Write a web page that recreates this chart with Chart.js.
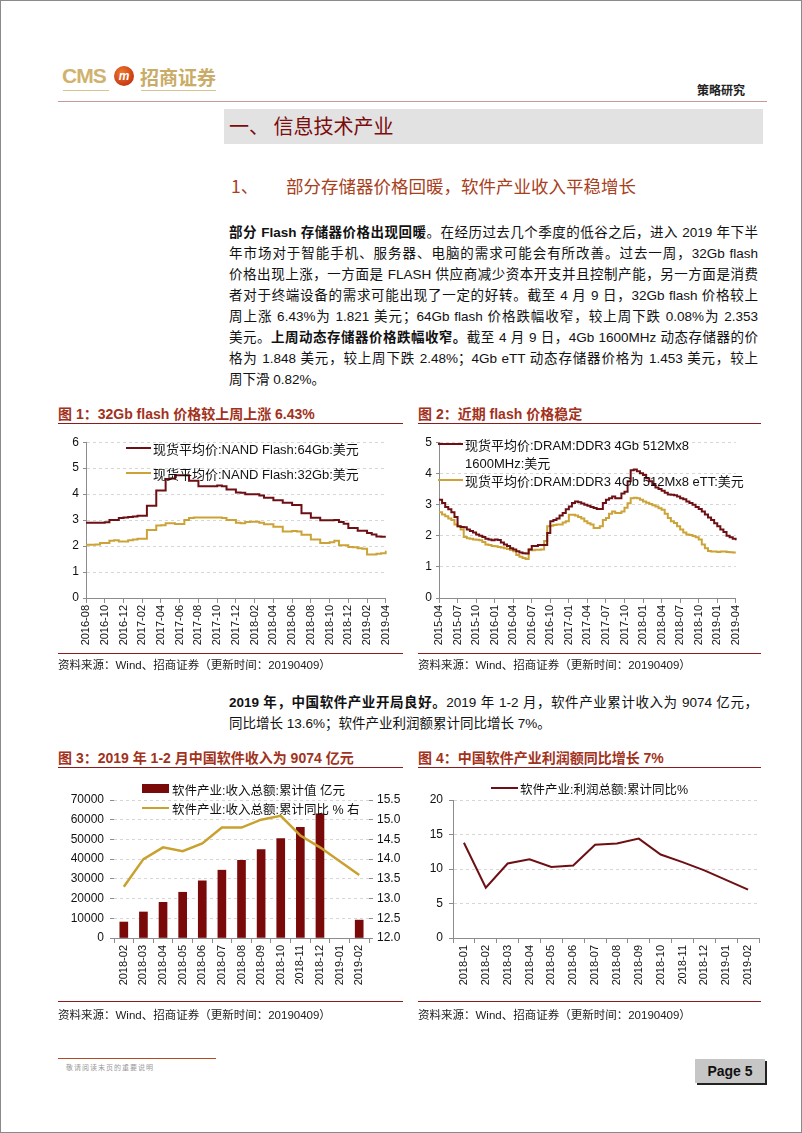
<!DOCTYPE html>
<html>
<head>
<meta charset="utf-8">
<script src="https://cdn.jsdelivr.net/npm/chart.js@4.4.1/dist/chart.umd.min.js"></script>
<style>
  body { margin: 0; background: #fff; }
  #page { position: relative; width: 802px; height: 1133px; border: 1px solid #8a8a8a; box-sizing: border-box; overflow: hidden;
          font-family: "Liberation Sans", Arial, "Noto Sans CJK SC", sans-serif; color: #111; }
  .abs { position: absolute; }
  .para { position: absolute; left: 228px; width: 529px; font-size: 13.5px; line-height: 21px; }
  .para div { text-align: justify; text-align-last: justify; height: 21px; white-space: nowrap; }
  .para div.last { text-align-last: left; }
  .ttl { position: absolute; font-size: 14px; font-weight: bold; color: #a2321c; }
  .rule { position: absolute; height: 0; border-top: 1.5px solid #8c1c1c; }
  .src { position: absolute; font-size: 11.5px; color: #222; }
  .leg { position: absolute; font-size: 13px; color: #111; white-space: nowrap; }
  .sw { position: absolute; height: 0; border-top: 2px solid; }
  canvas { position: absolute; }
</style>
</head>
<body>
<div id="page">

  <!-- header -->
  <div class="abs" style="left:61px;top:63px;font-weight:bold;font-size:21px;color:#d0b26e;letter-spacing:-1px;">CMS</div>
  <div class="abs" style="left:62px;top:89px;width:46px;border-top:1px solid #d8c48e;"></div>
  <div class="abs" style="left:113px;top:65px;width:20px;height:20px;border-radius:50%;background:radial-gradient(circle at 40% 35%,#f07a2a,#b81e10);color:#fff;font-size:12px;font-weight:bold;font-style:italic;text-align:center;line-height:20px;">m</div>
  <div class="abs" style="left:139px;top:62px;font-family:'Noto Sans CJK SC';font-weight:bold;font-size:19px;color:#c9ac68;">招商证券</div>
  <div class="abs" style="left:140px;top:89px;width:75px;border-top:1px solid #d8c48e;"></div>
  <div class="abs" style="left:696px;top:80px;font-family:'Noto Sans CJK SC';font-weight:bold;font-size:12px;color:#222;">策略研究</div>
  <div class="abs" style="left:57px;top:100px;width:709px;border-top:1px solid #c49a9a;"></div>

  <div class="abs" style="left:223px;top:108px;width:539px;height:35px;background:#e2e2e2;"></div>
  <div class="abs" style="left:228px;top:110px;font-family:'Noto Sans CJK SC';font-size:20px;color:#7a0c0c;">一、 信息技术产业</div>
  <div class="abs" style="left:230px;top:172px;font-family:'Noto Sans CJK SC';font-size:17.5px;color:#a8401c;">1、</div>
  <div class="abs" style="left:285px;top:172px;font-family:'Noto Sans CJK SC';font-size:17.5px;color:#a8401c;">部分存储器价格回暖，软件产业收入平稳增长</div>

  <div class="para" style="top:221px;">
    <div><b>部分 Flash 存储器价格出现回暖</b>。在经历过去几个季度的低谷之后，进入 2019 年下半</div>
    <div>年市场对于智能手机、服务器、电脑的需求可能会有所改善。过去一周，32Gb flash</div>
    <div>价格出现上涨，一方面是 FLASH 供应商减少资本开支并且控制产能，另一方面是消费</div>
    <div>者对于终端设备的需求可能出现了一定的好转。截至 4 月 9 日，32Gb flash 价格较上</div>
    <div>周上涨 6.43%为 1.821 美元；64Gb flash 价格跌幅收窄，较上周下跌 0.08%为 2.353</div>
    <div>美元。<b>上周动态存储器价格跌幅收窄。</b>截至 4 月 9 日，4Gb 1600MHz 动态存储器的价</div>
    <div>格为 1.848 美元，较上周下跌 2.48%；4Gb eTT 动态存储器价格为 1.453 美元，较上</div>
    <div class="last">周下滑 0.82%。</div>
  </div>

  <!-- figure 1 & 2 frames -->
  <div class="ttl" style="left:57px;top:402px;">图 1：32Gb flash 价格较上周上涨 6.43%</div>
  <div class="rule" style="left:57px;top:422px;width:345px;"></div>
  <div class="ttl" style="left:417px;top:402px;">图 2：近期 flash 价格稳定</div>
  <div class="rule" style="left:417px;top:422px;width:343px;"></div>

  <canvas id="flashChart" width="345" height="225" style="left:55px;top:430px;"></canvas>
  <canvas id="dramChart" width="335" height="225" style="left:415px;top:430px;"></canvas>

  <div class="sw" style="left:125px;top:446px;width:25px;border-color:#6e0f14;"></div>
  <div class="leg" style="left:152px;top:438px;">现货平均价:NAND Flash:64Gb:美元</div>
  <div class="sw" style="left:125px;top:471px;width:25px;border-color:#cba336;"></div>
  <div class="leg" style="left:152px;top:463px;">现货平均价:NAND Flash:32Gb:美元</div>

  <div class="sw" style="left:437px;top:442px;width:25px;border-color:#6e0f14;"></div>
  <div class="leg" style="left:464px;top:434px;">现货平均价:DRAM:DDR3 4Gb 512Mx8</div>
  <div class="leg" style="left:464px;top:452px;">1600MHz:美元</div>
  <div class="sw" style="left:437px;top:478px;width:25px;border-color:#cba336;"></div>
  <div class="leg" style="left:464px;top:470px;">现货平均价:DRAM:DDR3 4Gb 512Mx8 eTT:美元</div>

  <div class="rule" style="left:57px;top:652px;width:345px;"></div>
  <div class="src" style="left:57px;top:655px;">资料来源：Wind、招商证券（更新时间：20190409）</div>
  <div class="rule" style="left:417px;top:652px;width:343px;"></div>
  <div class="src" style="left:417px;top:655px;">资料来源：Wind、招商证券（更新时间：20190409）</div>

  <div class="para" style="top:691px;">
    <div><b>2019 年，中国软件产业开局良好。</b>2019 年 1-2 月，软件产业累计收入为 9074 亿元，</div>
    <div class="last">同比增长 13.6%；软件产业利润额累计同比增长 7%。</div>
  </div>

  <!-- figure 3 & 4 -->
  <div class="ttl" style="left:57px;top:746px;">图 3：2019 年 1-2 月中国软件收入为 9074 亿元</div>
  <div class="rule" style="left:57px;top:766px;width:345px;"></div>
  <div class="ttl" style="left:417px;top:746px;">图 4：中国软件产业利润额同比增长 7%</div>
  <div class="rule" style="left:417px;top:766px;width:343px;"></div>

  <canvas id="revenueChart" width="350" height="222" style="left:55px;top:780px;"></canvas>
  <canvas id="profitChart" width="350" height="222" style="left:415px;top:780px;"></canvas>

  <div class="abs" style="left:141px;top:783px;width:27px;height:9px;background:#7a0a0a;"></div>
  <div class="leg" style="left:171px;top:779px;font-size:12.5px;">软件产业:收入总额:累计值 亿元</div>
  <div class="sw" style="left:141px;top:806px;width:27px;border-top-width:2.5px;border-color:#c9a12e;"></div>
  <div class="leg" style="left:171px;top:798px;font-size:12.5px;">软件产业:收入总额:累计同比 % 右</div>

  <div class="sw" style="left:490px;top:786px;width:27px;border-color:#6e0f14;"></div>
  <div class="leg" style="left:519px;top:778px;font-size:12.5px;">软件产业:利润总额:累计同比%</div>

  <div class="rule" style="left:57px;top:1000px;width:345px;"></div>
  <div class="src" style="left:57px;top:1005px;">资料来源：Wind、招商证券（更新时间：20190409）</div>
  <div class="rule" style="left:417px;top:1000px;width:343px;"></div>
  <div class="src" style="left:417px;top:1005px;">资料来源：Wind、招商证券（更新时间：20190409）</div>

  <!-- footer -->
  <div class="abs" style="left:57px;top:1057px;width:158px;border-top:1.5px solid #b44a22;"></div>
  <div class="abs" style="left:65px;top:1061px;font-size:7px;color:#999;letter-spacing:1px;">敬请阅读末页的重要说明</div>
  <div class="abs" style="left:694px;top:1058px;width:70px;height:24px;background:#c6c6c6;box-shadow:2px 2px 0 #222;font-weight:bold;font-size:14px;line-height:24px;text-align:center;color:#111;">Page 5</div>
</div>

<script>
// ---- data: 图1 NAND flash (半月频) ----
const flashMonths = ['2016-08','2016-09','2016-10','2016-11','2016-12','2017-01','2017-02','2017-03','2017-04','2017-05','2017-06','2017-07','2017-08','2017-09','2017-10','2017-11','2017-12','2018-01','2018-02','2018-03','2018-04','2018-05','2018-06','2018-07','2018-08','2018-09','2018-10','2018-11','2018-12','2019-01','2019-02','2019-03','2019-04'];
const flashTicks = ['2016-08','2016-10','2016-12','2017-02','2017-04','2017-06','2017-08','2017-10','2017-12','2018-02','2018-04','2018-06','2018-08','2018-10','2018-12','2019-02','2019-04'];
const flash64 = [2.90,2.90,2.90,2.90,2.92,3.00,3.00,3.08,3.10,3.12,
                 3.14,3.17,3.17,3.55,3.55,4.14,4.14,4.58,4.60,4.73,
                 4.73,4.73,4.52,4.52,4.30,4.30,4.30,4.30,4.33,4.30,
                 4.18,4.18,4.06,4.05,4.00,4.00,4.00,3.95,3.86,3.86,
                 3.76,3.76,3.67,3.67,3.58,3.58,3.26,3.26,3.09,3.09,
                 2.99,2.99,2.99,3.00,2.93,2.86,2.70,2.70,2.59,2.59,
                 2.50,2.45,2.37,2.36,2.36];
const flash32 = [2.05,2.05,2.06,2.12,2.12,2.20,2.22,2.18,2.18,2.22,
                 2.25,2.28,2.28,2.62,2.62,2.79,2.80,2.88,2.88,2.85,
                 2.85,3.00,3.08,3.10,3.10,3.10,3.10,3.10,3.10,3.08,
                 3.00,3.00,2.90,2.88,2.93,2.94,2.94,2.90,2.84,2.84,
                 2.74,2.74,2.56,2.56,2.58,2.56,2.44,2.44,2.25,2.25,
                 2.12,2.12,2.15,2.20,2.03,2.03,1.96,1.95,1.92,1.90,
                 1.68,1.68,1.70,1.72,1.82];

// ---- data: 图2 DRAM (半月频) ----
const dramMonths = ['2015-04','2015-05','2015-06','2015-07','2015-08','2015-09','2015-10','2015-11','2015-12','2016-01','2016-02','2016-03','2016-04','2016-05','2016-06','2016-07','2016-08','2016-09','2016-10','2016-11','2016-12','2017-01','2017-02','2017-03','2017-04','2017-05','2017-06','2017-07','2017-08','2017-09','2017-10','2017-11','2017-12','2018-01','2018-02','2018-03','2018-04','2018-05','2018-06','2018-07','2018-08','2018-09','2018-10','2018-11','2018-12','2019-01','2019-02','2019-03','2019-04'];
const dramTicks = ['2015-04','2015-07','2015-10','2016-01','2016-04','2016-07','2016-10','2017-01','2017-04','2017-07','2017-10','2018-01','2018-04','2018-07','2018-10','2019-01','2019-04'];
const ddr3 = [3.15,3.05,2.92,2.85,2.75,2.60,2.30,2.28,2.27,2.20,
              2.15,2.10,2.04,2.00,1.96,1.90,1.88,1.85,1.88,1.86,
              1.78,1.72,1.67,1.60,1.56,1.50,1.46,1.44,1.43,1.56,
              1.67,1.67,1.70,1.70,1.70,2.09,2.46,2.50,2.55,2.65,
              2.73,2.85,2.94,3.05,3.10,3.07,3.03,2.99,2.96,2.92,
              2.89,2.86,2.86,3.05,3.15,3.20,3.26,3.20,3.20,3.35,
              3.41,3.75,4.10,4.12,4.07,4.00,3.95,3.84,3.75,3.66,
              3.55,3.50,3.44,3.38,3.32,3.31,3.30,3.26,3.20,3.17,
              3.10,3.05,2.99,2.92,2.86,2.78,2.68,2.58,2.50,2.40,
              2.30,2.20,2.12,2.00,1.95,1.90,1.85];
const ddr3Ett = [2.75,2.68,2.62,2.55,2.50,2.36,2.30,2.20,1.96,1.92,
                 1.90,1.88,1.87,1.85,1.80,1.72,1.70,1.67,1.66,1.64,
                 1.62,1.60,1.57,1.54,1.50,1.38,1.32,1.28,1.25,1.56,
                 1.53,1.55,1.55,1.56,1.83,2.30,2.32,2.34,2.36,2.36,
                 2.42,2.46,2.67,2.67,2.65,2.60,2.55,2.46,2.40,2.36,
                 2.25,2.25,2.30,2.50,2.57,2.70,2.78,2.73,2.73,2.78,
                 2.90,3.04,3.20,3.22,3.20,3.15,3.10,3.06,3.02,2.98,
                 2.94,2.88,2.83,2.70,2.57,2.46,2.41,2.30,2.20,2.10,
                 2.04,2.02,1.99,1.95,1.88,1.72,1.60,1.51,1.49,1.49,
                 1.48,1.49,1.49,1.48,1.47,1.46,1.46];

// ---- data: 图3 软件收入 ----
const revenueMonths = ['2018-02','2018-03','2018-04','2018-05','2018-06','2018-07','2018-08','2018-09','2018-10','2018-11','2018-12','2019-01','2019-02'];
const revenueTotal = [8100,13200,18100,23200,29000,34400,39400,44900,50400,56100,63000,null,9074];
const revenueYoy = [13.3,14.0,14.3,14.2,14.4,14.8,14.8,15.0,15.1,14.6,14.3,null,13.6];

// ---- data: 图4 软件利润 ----
const profitMonths = ['2018-01','2018-02','2018-03','2018-04','2018-05','2018-06','2018-07','2018-08','2018-09','2018-10','2018-11','2018-12','2019-01','2019-02'];
const profitYoy = [13.8,7.3,10.8,11.4,10.3,10.5,13.5,13.7,14.4,12.1,11.0,9.8,null,7.0];

const DARK_RED = '#6e0f14';
const GOLD = '#cba336';
const AXIS = '#8c8c8c';
const GRID = '#d6d6d6';

Chart.defaults.font.family = '"Liberation Sans", Arial, "Noto Sans CJK SC", sans-serif';
Chart.defaults.color = '#111';

// 每月两个点：月初 + 月中
function halfMonthLabels(months) {
    const out = [];
    months.forEach((m, i) => {
        out.push(m);
        if (i < months.length - 1) out.push(m + '-16');
    });
    return out;
}

function stepLine(label, data, color) {
    return { label: label, data: data, borderColor: color, borderWidth: 2, stepped: true, pointRadius: 0, fill: false };
}

function priceChart(id, labels, ticksShown, yMax, yWidth, padRight, datasets) {
    new Chart(document.getElementById(id), {
        type: 'line',
        data: { labels: labels, datasets: datasets },
        options: {
            responsive: false, animation: false, devicePixelRatio: 1,
            layout: { padding: { top: 10, right: padRight, left: 0, bottom: 0 } },
            plugins: { legend: { display: false }, tooltip: { enabled: false } },
            scales: {
                x: {
                    offset: false,
                    grid: { drawOnChartArea: false, tickLength: 5, tickColor: AXIS },
                    border: { color: AXIS },
                    ticks: {
                        autoSkip: false, maxRotation: 90, minRotation: 90, padding: 2,
                        font: { size: 11 },
                        callback: function(val) {
                            const l = this.getLabelForValue(val);
                            return ticksShown.includes(l) ? l : null;
                        }
                    },
                    afterFit: s => { s.height = 58; }
                },
                y: {
                    min: 0, max: yMax,
                    ticks: { stepSize: 1, font: { size: 12 }, padding: 4 },
                    grid: { color: GRID, tickColor: AXIS, tickLength: 3 },
                    border: { color: AXIS, dash: [3, 3] },
                    afterFit: s => { s.width = yWidth; }
                }
            }
        }
    });
}

priceChart('flashChart', halfMonthLabels(flashMonths), flashTicks, 6, 30, 14, [
    stepLine('现货平均价:NAND Flash:64Gb:美元', flash64, DARK_RED),
    stepLine('现货平均价:NAND Flash:32Gb:美元', flash32, GOLD)
]);

priceChart('dramChart', halfMonthLabels(dramMonths), dramTicks, 5, 23, 13, [
    stepLine('现货平均价:DRAM:DDR3 4Gb 512Mx8 1600MHz:美元', ddr3, DARK_RED),
    stepLine('现货平均价:DRAM:DDR3 4Gb 512Mx8 eTT:美元', ddr3Ett, GOLD)
]);

// 图3：柱状 + 折线（右轴）
new Chart(document.getElementById('revenueChart'), {
    type: 'bar',
    data: {
        labels: revenueMonths,
        datasets: [
            { type: 'line', label: '软件产业:收入总额:累计同比 % 右', data: revenueYoy, yAxisID: 'y1',
              borderColor: '#c9a12e', borderWidth: 2.5, pointRadius: 0, spanGaps: true, tension: 0 },
            { type: 'bar', label: '软件产业:收入总额:累计值 亿元', data: revenueTotal, yAxisID: 'y',
              backgroundColor: '#7a0a0a', barThickness: 8 }
        ]
    },
    options: {
        responsive: false, animation: false, devicePixelRatio: 1,
        layout: { padding: { top: 19, right: 0, left: 0, bottom: 0 } },
        plugins: { legend: { display: false }, tooltip: { enabled: false } },
        scales: {
            x: {
                offset: true,
                grid: { offset: true, drawOnChartArea: false, tickLength: 5, tickColor: AXIS },
                border: { color: AXIS },
                ticks: { autoSkip: false, maxRotation: 90, minRotation: 90, padding: 2, font: { size: 11 } },
                afterFit: s => { s.height = 65; }
            },
            y: {
                position: 'left', min: 0, max: 70000,
                ticks: { stepSize: 10000, font: { size: 12 }, padding: 6, callback: v => String(v) },
                grid: { color: GRID, tickColor: AXIS, tickLength: 4 },
                border: { display: false, dash: [3, 3] },
                afterFit: s => { s.width = 58; }
            },
            y1: {
                position: 'right', min: 12, max: 15.5,
                ticks: { stepSize: 0.5, font: { size: 12 }, padding: 4, callback: v => v.toFixed(1) },
                grid: { drawOnChartArea: false, tickColor: AXIS, tickLength: 4 },
                border: { display: false },
                afterFit: s => { s.width = 37; }
            }
        }
    }
});

// 图4：利润同比
new Chart(document.getElementById('profitChart'), {
    type: 'line',
    data: {
        labels: profitMonths,
        datasets: [
            { label: '软件产业:利润总额:累计同比%', data: profitYoy, borderColor: DARK_RED, borderWidth: 2,
              pointRadius: 0, spanGaps: true, tension: 0 }
        ]
    },
    options: {
        responsive: false, animation: false, devicePixelRatio: 1,
        layout: { padding: { top: 19, right: 7, left: 0, bottom: 0 } },
        plugins: { legend: { display: false }, tooltip: { enabled: false } },
        scales: {
            x: {
                offset: true,
                grid: { offset: true, drawOnChartArea: false, tickLength: 5, tickColor: AXIS },
                border: { color: AXIS },
                ticks: { autoSkip: false, maxRotation: 90, minRotation: 90, padding: 2, font: { size: 11 } },
                afterFit: s => { s.height = 65; }
            },
            y: {
                min: 0, max: 20,
                ticks: { stepSize: 5, font: { size: 12 }, padding: 6 },
                grid: { color: GRID, tickColor: AXIS, tickLength: 4 },
                border: { color: AXIS, dash: [3, 3] },
                afterFit: s => { s.width = 37; }
            }
        }
    }
});
</script>
</body>
</html>
